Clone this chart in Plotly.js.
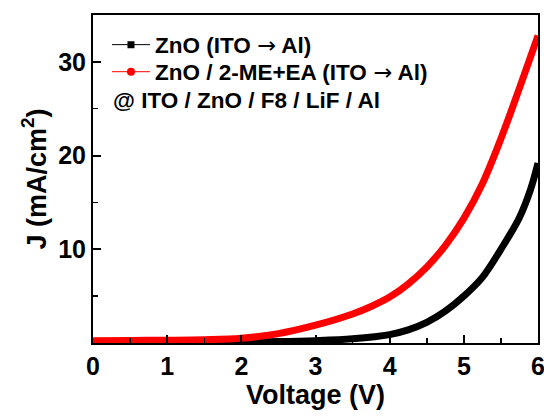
<!DOCTYPE html>
<html>
<head>
<meta charset="utf-8">
<script src="https://cdn.plot.ly/plotly-3.0.1.min.js"></script>
<style>html,body{margin:0;padding:0;background:#fff}#chart{width:544px;height:416px}</style>
</head>
<body>
<div id="chart"></div>
<script>
// Data
var voltageRed = [0, 0.5, 1.0, 1.5, 2.0, 2.5, 3.0, 3.5, 3.75, 4.0, 4.25, 4.5, 4.75, 5.0, 5.25, 5.5, 5.75, 6.0];
var currentRed = [0.25, 0.28, 0.3, 0.35, 0.5, 1.0, 1.9, 3.1, 3.9, 4.9, 6.3, 8.1, 10.4, 13.3, 17.0, 21.8, 27.2, 32.8];
var voltageBlack = [0, 1.0, 2.0, 2.5, 3.0, 3.5, 4.0, 4.25, 4.5, 4.75, 5.0, 5.25, 5.5, 5.75, 5.9, 6.0];
var currentBlack = [0.1, 0.1, 0.12, 0.15, 0.25, 0.45, 0.9, 1.4, 2.2, 3.4, 5.0, 7.0, 10.0, 13.4, 16.4, 19.2];
var arrow = '<span style="font-family:DejaVu Sans;font-weight:normal">\u2192</span>';
var seriesNames = ["ZnO (ITO " + arrow + " Al)", "ZnO / 2-ME+EA (ITO " + arrow + " Al)"];
var deviceNote = "@ ITO / ZnO / F8 / LiF / Al";
var xTicks = [0, 1, 2, 3, 4, 5, 6];
var yTicks = [10, 20, 30];

var fam = "Liberation Sans, Arial, sans-serif";
function f(size) { return {family: fam, size: size, color: "#000", weight: "bold"}; }

var traces = [
  {x: voltageBlack, y: currentBlack, mode: "lines", line: {color: "#000", width: 7, shape: "spline"}, showlegend: false, hoverinfo: "skip"},
  {x: voltageRed, y: currentRed, mode: "lines", line: {color: "#ff0000", width: 7, shape: "spline"}, showlegend: false, hoverinfo: "skip"},
  {x: [null], y: [null], name: seriesNames[0], legend: "legend", mode: "lines+markers", line: {color: "#000", width: 1}, marker: {symbol: "square", size: 7, color: "#000"}},
  {x: [null], y: [null], name: seriesNames[1], legend: "legend2", mode: "lines+markers", line: {color: "#ff0000", width: 1}, marker: {symbol: "circle", size: 8, color: "#ff0000"}}
];

var legendBase = {x: 0.0314, xanchor: "left", yanchor: "middle", bgcolor: "rgba(0,0,0,0)", font: f(22.5), itemwidth: 38};

var layout = {
  width: 544, height: 416,
  margin: {l: 93, r: 6, t: 15, b: 73},
  paper_bgcolor: "#fff", plot_bgcolor: "#fff",
  font: f(22),
  showlegend: true,
  legend: Object.assign({}, legendBase, {y: 0.9085}),
  legend2: Object.assign({}, legendBase, {y: 0.826}),
  xaxis: {
    range: [0, 6], tickmode: "array", tickvals: xTicks, ticktext: xTicks.map(String),
    ticks: "inside", ticklen: 8, tickwidth: 2, tickcolor: "#000",
    minor: {tickmode: "linear", tick0: 0.5, dtick: 1, ticks: "inside", ticklen: 5, tickwidth: 1.5, tickcolor: "#000"},
    showline: true, linewidth: 2, linecolor: "#000", mirror: true,
    showgrid: false, zeroline: false, ticklabeloverflow: "allow",
    tickfont: f(25),
    title: {text: "Voltage (V)", font: f(27), standoff: 6}
  },
  yaxis: {
    range: [0, 35], tickmode: "array", tickvals: yTicks, ticktext: yTicks.map(String),
    ticks: "inside", ticklen: 8, tickwidth: 2, tickcolor: "#000",
    minor: {tickmode: "linear", tick0: 5, dtick: 10, ticks: "inside", ticklen: 5, tickwidth: 1.5, tickcolor: "#000"},
    showline: true, linewidth: 2, linecolor: "#000", mirror: true,
    showgrid: false, zeroline: false,
    tickfont: f(25),
    title: {text: "J (mA/cm<sup>2</sup>)", font: f(27), standoff: 4}
  },
  annotations: [
    {text: deviceNote, xref: "paper", yref: "paper", x: 0.041, y: 0.738, xanchor: "left", yanchor: "middle",
     showarrow: false, font: f(22.5)}
  ]
};

Plotly.newPlot("chart", traces, layout, {staticPlot: true, displayModeBar: false});
</script>
</body>
</html>
